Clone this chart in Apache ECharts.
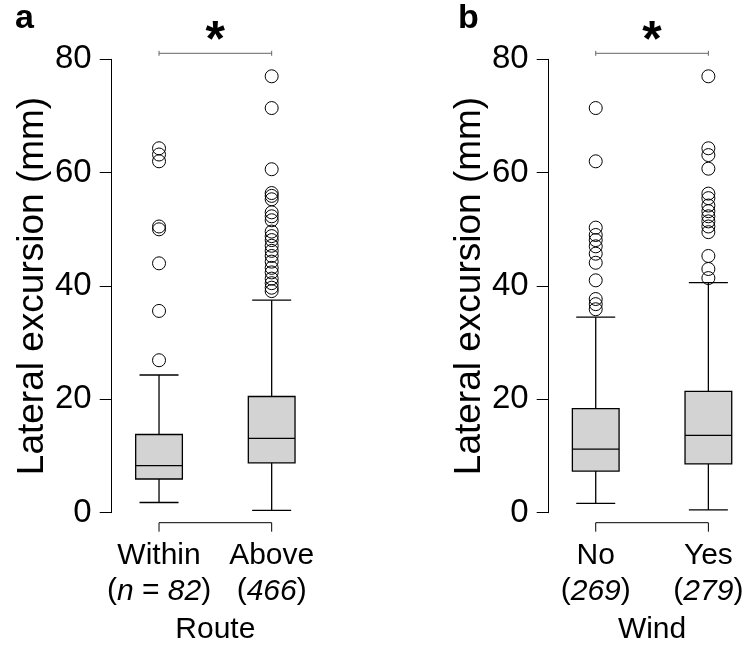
<!DOCTYPE html>
<html><head><meta charset="utf-8">
<script src="https://cdn.jsdelivr.net/npm/echarts@6/dist/echarts.min.js"></script>
<style>html,body{margin:0;padding:0;background:#fff}#c{width:750px;height:655px}</style>
</head><body><div id="c"></div>
<script>
// ---------- data ----------
const routeCategories = ['Within', 'Above'];
const routeCountLabels = ['{it|n} = {it|82}', '{it|466}'];
const routeBoxes = [
  [1.8, 5.95, 8.3, 13.8, 24.3],
  [0.4, 8.8, 13.1, 20.5, 37.5]
];
const routeOutliersWithin = [26.9, 35.6, 44.0, 50.0, 50.5, 62.0, 63.2, 64.3];
const routeOutliersAbove = [77.0, 71.4, 60.6, 56.4, 55.9, 55.3, 53.0, 52.3, 51.6, 49.6, 48.8, 48.1, 47.1, 46.2, 45.3, 44.3, 43.2, 42.4, 41.3, 40.5, 39.7, 39.1];

const windCategories = ['No', 'Yes'];
const windCountLabels = ['{it|269}', '{it|279}'];
const windBoxes = [
  [1.65, 7.35, 11.2, 18.35, 34.5],
  [0.5, 8.6, 13.65, 21.4, 40.6]
];
const windOutliersNo = [71.4, 62.0, 50.3, 49.0, 48.1, 47.0, 45.7, 44.1, 41.0, 37.7, 36.8, 35.9];
const windOutliersYes = [77.0, 64.3, 63.1, 60.7, 56.3, 55.5, 54.2, 53.2, 52.3, 51.4, 50.5, 49.5, 45.3, 43.0, 41.4];

const yMin = 0, yMax = 80, yInterval = 20;
const yTitle = 'Lateral excursion (mm)';
const panelLetters = ['a', 'b'];
const groupTitles = ['Route', 'Wind'];
const sigMark = '*';

// ---------- styling ----------
const FONT = '"Liberation Sans", Arial, Helvetica, sans-serif';
const BOX_W = 46.7, CAP_W = 39, LW = 1.3;

function renderBox(params, api) {
  const x = api.value(0);
  const lo = api.coord([x, api.value(1)]);
  const q1 = api.coord([x, api.value(2)]);
  const md = api.coord([x, api.value(3)]);
  const q3 = api.coord([x, api.value(4)]);
  const hi = api.coord([x, api.value(5)]);
  const cx = lo[0];
  const st = { stroke: '#000', lineWidth: LW };
  return {
    type: 'group',
    children: [
      { type: 'line', shape: { x1: cx, y1: hi[1], x2: cx, y2: q3[1] }, style: st },
      { type: 'line', shape: { x1: cx, y1: q1[1], x2: cx, y2: lo[1] }, style: st },
      { type: 'line', shape: { x1: cx - CAP_W / 2, y1: hi[1], x2: cx + CAP_W / 2, y2: hi[1] }, style: st },
      { type: 'line', shape: { x1: cx - CAP_W / 2, y1: lo[1], x2: cx + CAP_W / 2, y2: lo[1] }, style: st },
      { type: 'rect', shape: { x: cx - BOX_W / 2, y: q3[1], width: BOX_W, height: q1[1] - q3[1] },
        style: { fill: '#d3d3d3', stroke: '#000', lineWidth: LW } },
      { type: 'line', shape: { x1: cx - BOX_W / 2, y1: md[1], x2: cx + BOX_W / 2, y2: md[1] }, style: st }
    ]
  };
}

function renderBrackets(params, api) {
  const a = api.coord([0, yMin]);
  const b = api.coord([1, yMin]);
  const t = api.coord([0, yMax]);
  const yb = a[1] + 10;
  const yt = t[1] - 6;
  const mid = (a[0] + b[0]) / 2;
  const sg = { stroke: '#666', lineWidth: 1 };
  return {
    type: 'group',
    children: [
      { type: 'polyline', shape: { points: [[a[0], yb + 9], [a[0], yb], [b[0], yb], [b[0], yb + 9]] }, style: { stroke: '#000', lineWidth: 1, fill: null } },
      { type: 'line', shape: { x1: a[0], y1: yt, x2: b[0], y2: yt }, style: sg },
      { type: 'line', shape: { x1: a[0], y1: yt - 2.5, x2: a[0], y2: yt + 2.5 }, style: sg },
      { type: 'line', shape: { x1: b[0], y1: yt - 2.5, x2: b[0], y2: yt + 2.5 }, style: sg },
      { type: 'text', x: mid, y: yt + 14, style: { text: sigMark, fill: '#000', font: 'bold 50px ' + FONT, textAlign: 'center', textVerticalAlign: 'bottom' } }
    ]
  };
}

function boxData(boxes) { return boxes.map((b, i) => [i].concat(b)); }
function outData(idx, vals) { return vals.map(v => [idx, v]); }

const gridLefts = [102.7, 539.4];
const axisOffsets = [-9, -9.3];
const panels = [
  { cats: routeCategories, counts: routeCountLabels, boxes: routeBoxes, outs: [routeOutliersWithin, routeOutliersAbove] },
  { cats: windCategories, counts: windCountLabels, boxes: windBoxes, outs: [windOutliersNo, windOutliersYes] }
];

const grid = [], xAxis = [], yAxis = [], series = [];
panels.forEach((p, k) => {
  grid.push({ left: gridLefts[k], top: 59.3, width: 225.3, height: 453.4, containLabel: false, outerBoundsMode: 'none' });
  xAxis.push({
    type: 'category', gridIndex: k, data: p.cats, boundaryGap: true,
    axisLine: { show: false }, axisTick: { show: false }, splitLine: { show: false },
    axisLabel: {
      show: true, interval: 0, margin: 26, fontSize: 30, lineHeight: 35, color: '#000', fontFamily: FONT,
      formatter: (v, i) => v + '\n(' + p.counts[i] + ')',
      rich: { it: { fontStyle: 'italic', fontSize: 30, lineHeight: 35, color: '#000', fontFamily: FONT } }
    },
    name: groupTitles[k], nameLocation: 'middle', nameGap: 100,
    nameTextStyle: { fontSize: 30, color: '#000', fontFamily: FONT, lineHeight: 32 }
  });
  yAxis.push({
    type: 'value', gridIndex: k, min: yMin, max: yMax, interval: yInterval, offset: axisOffsets[k],
    axisLine: { show: true, lineStyle: { color: '#000', width: 1 } },
    axisTick: { show: true, inside: false, length: 12, lineStyle: { color: '#000', width: 1 } },
    splitLine: { show: false },
    axisLabel: { show: true, fontSize: 33, color: '#000', fontFamily: FONT, margin: 20 },
    name: yTitle, nameLocation: 'middle', nameGap: 60, nameRotate: 90,
    nameTextStyle: { fontSize: 37, color: '#000', fontFamily: FONT }
  });
  series.push({
    type: 'custom', xAxisIndex: k, yAxisIndex: k, renderItem: renderBox, clip: false,
    data: boxData(p.boxes), silent: true
  });
  p.outs.forEach((vals, i) => {
    series.push({
      type: 'scatter', xAxisIndex: k, yAxisIndex: k, symbol: 'circle', symbolSize: 13,
      itemStyle: { color: 'rgba(0,0,0,0)', borderColor: '#000', borderWidth: 1, opacity: 1 },
      data: outData(i, vals), silent: true
    });
  });
  series.push({
    type: 'custom', xAxisIndex: k, yAxisIndex: k, renderItem: renderBrackets, clip: false,
    data: [[0, yMin]], silent: true
  });
});

const chart = echarts.init(document.getElementById('c'), null, { renderer: 'canvas' });
chart.setOption({
  animation: false,
  backgroundColor: '#fff',
  title: [
    { text: panelLetters[0], left: 10, top: -3, textStyle: { fontSize: 34, fontWeight: 'bold', color: '#000', fontFamily: FONT } },
    { text: panelLetters[1], left: 453, top: -3, textStyle: { fontSize: 34, fontWeight: 'bold', color: '#000', fontFamily: FONT } }
  ],
  grid, xAxis, yAxis, series
});
</script></body></html>
